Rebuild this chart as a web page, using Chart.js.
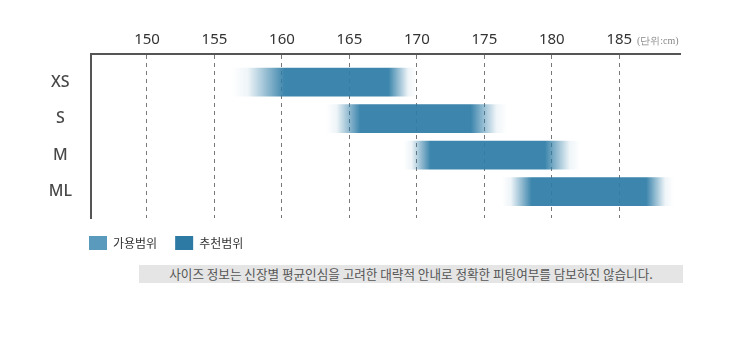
<!DOCTYPE html>
<html>
<head>
<meta charset="utf-8">
<script src="https://cdn.jsdelivr.net/npm/chart.js@4.4.1/dist/chart.umd.min.js"></script>
<style>
  html, body { margin: 0; padding: 0; background: #fff; }
  body { width: 746px; height: 339px; position: relative; overflow: hidden; font-family: 'Noto Sans CJK KR', 'Noto Sans', sans-serif; }
  #wrap { position: absolute; left: 0; top: 0; width: 746px; height: 260px; }
  #unit { position: absolute; left: 637px; top: 34px; font-family: 'Liberation Serif', serif; font-size: 10px; color: #888; }
  #note { position: absolute; left: 139px; top: 265px; width: 544px; height: 18px; line-height: 18px; background: #e5e5e5; color: #555; font-size: 12.6px; text-align: center; }
</style>
</head>
<body>
<div id="wrap"><canvas id="chart"></canvas></div>
<div id="unit">(단위:cm)</div>
<div id="note">사이즈 정보는 신장별 평균인심을 고려한 대략적 안내로 정확한 피팅여부를 담보하진 않습니다.</div>
<script>
  const sizes = ['XS', 'S', 'M', 'ML'];
  // 가용범위 (cm)
  const availMin = [156.3, 163.3, 169.0, 176.3];
  const availMax = [170.0, 176.7, 182.1, 189.0];
  // 추천범위 (cm)
  const recMin = [160.2, 165.8, 171.0, 178.5];
  const recMax = [167.9, 174.0, 179.5, 187.0];

  const LEGEND_COLORS = ['#5a9bbd', '#2d7aa5'];

  const rgba = (a) => 'rgba(46,124,166,' + a + ')';

  // fade from transparent at the available edges to solid at the recommended edges
  function fadeFill (ctx) {
    const chart = ctx.chart;
    const x = chart.scales.x;
    if (!chart.chartArea || ctx.type !== 'data' || !x) return rgba(0.93);
    const i = ctx.dataIndex;
    const x0 = x.getPixelForValue(availMin[i]);
    const x1 = x.getPixelForValue(availMax[i]);
    const g = chart.ctx.createLinearGradient(x0, 0, x1, 0);
    const span = availMax[i] - availMin[i];
    const a = (recMin[i] - availMin[i]) / span;
    const b = (recMax[i] - availMin[i]) / span;
    const r = 1 - b;
    g.addColorStop(0, rgba(0));
    g.addColorStop(a * 0.3, rgba(0.08));
    g.addColorStop(a * 0.65, rgba(0.5));
    g.addColorStop(a, rgba(0.93));
    g.addColorStop(b, rgba(0.93));
    g.addColorStop(b + r * 0.35, rgba(0.5));
    g.addColorStop(b + r * 0.7, rgba(0.08));
    g.addColorStop(1, rgba(0));
    return g;
  }

  // legend sits under the plot, starting near the y axis line
  const legendShift = {
    id: 'legendShift',
    afterLayout (chart) {
      if (chart.legend) chart.legend.left = 71;
    }
  };

  const ctx = document.getElementById('chart').getContext('2d');
  new Chart(ctx, {
    type: 'bar',
    data: {
      datasets: [
        {
          label: '가용범위',
          data: sizes.map((s, i) => ({ x: [availMin[i], availMax[i]], y: i })),
          backgroundColor: fadeFill,
          barThickness: 28,
          grouped: false
        },
        {
          label: '추천범위',
          data: sizes.map((s, i) => ({ x: [recMin[i], recMax[i]], y: i })),
          backgroundColor: 'rgba(0,0,0,0)',
          barThickness: 28,
          grouped: false
        }
      ]
    },
    plugins: [legendShift],
    options: {
      indexAxis: 'y',
      responsive: true,
      maintainAspectRatio: false,
      animation: false,
      layout: { padding: { left: 0, right: 66, top: 0, bottom: 0 } },
      scales: {
        x: {
          type: 'linear',
          position: 'top',
          min: 145.85,
          max: 189.5,
          ticks: {
            stepSize: 5,
            includeBounds: false,
            padding: 5,
            color: '#333',
            font: { family: 'Noto Sans', size: 15 }
          },
          grid: { color: '#777', lineWidth: 1, drawTicks: false },
          border: { display: true, color: '#555', width: 2, dash: [4, 4] },
          afterFit: (s) => { s.height = 54; }
        },
        y: {
          type: 'linear',
          min: -0.77,
          max: 3.72,
          reverse: true,
          offset: false,
          ticks: {
            stepSize: 1,
            includeBounds: false,
            crossAlign: 'center',
            padding: 19,
            color: '#484848',
            font: { family: 'Noto Sans', size: 16, weight: '500' },
            callback: (v) => sizes[v]
          },
          grid: { display: false, drawTicks: false },
          border: { display: true, color: '#555', width: 2 },
          afterFit: (s) => { s.width = 91; }
        }
      },
      plugins: {
        tooltip: { enabled: false },
        legend: {
          position: 'bottom',
          align: 'start',
          labels: {
            boxWidth: 18,
            boxHeight: 14,
            padding: 18,
            color: '#333',
            font: { family: 'Noto Sans CJK KR', size: 12 },
            generateLabels: (chart) => chart.data.datasets.map((d, i) => ({
              text: d.label,
              fillStyle: LEGEND_COLORS[i],
              strokeStyle: LEGEND_COLORS[i],
              lineWidth: 0,
              fontColor: '#333',
              datasetIndex: i
            }))
          }
        }
      }
    }
  });
</script>
</body>
</html>
